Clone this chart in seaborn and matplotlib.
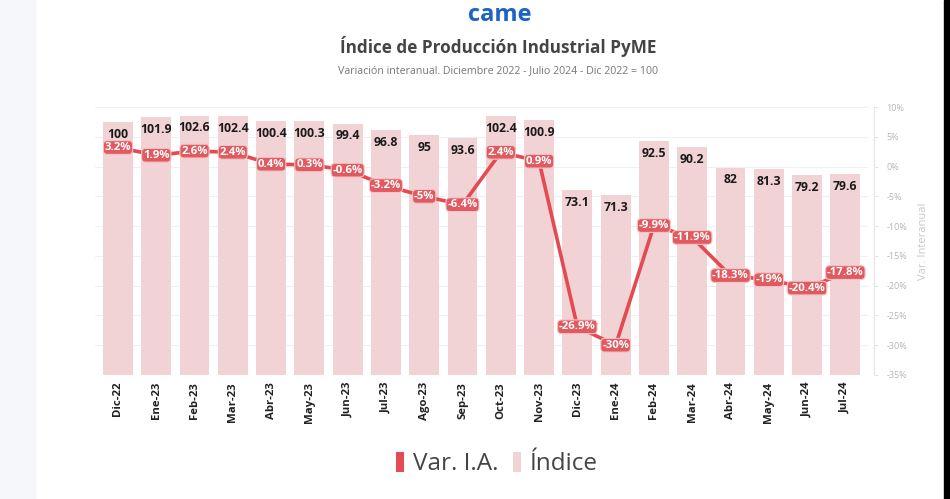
import numpy as np
import pandas as pd
import matplotlib
matplotlib.use("Agg")
import matplotlib.pyplot as plt
import seaborn as sns
from matplotlib.patches import Patch, Rectangle
from matplotlib.ticker import FuncFormatter, MultipleLocator

meses = ["Dic-22", "Ene-23", "Feb-23", "Mar-23", "Abr-23", "May-23", "Jun-23", "Jul-23",
         "Ago-23", "Sep-23", "Oct-23", "Nov-23", "Dic-23", "Ene-24", "Feb-24", "Mar-24",
         "Abr-24", "May-24", "Jun-24", "Jul-24"]
indice = [100, 101.9, 102.6, 102.4, 100.4, 100.3, 99.4, 96.8, 95, 93.6, 102.4, 100.9,
          73.1, 71.3, 92.5, 90.2, 82, 81.3, 79.2, 79.6]
var_ia = [3.2, 1.9, 2.6, 2.4, 0.4, 0.3, -0.6, -3.2, -5, -6.4, 2.4, 0.9,
          -26.9, -30, -9.9, -11.9, -18.3, -19, -20.4, -17.8]

titulo = "Índice de Producción Industrial PyME"
subtitulo = "Variación interanual. Diciembre 2022 - Julio 2024 - Dic 2022 = 100"
eje_der = "Var. Interanual"
leyenda = ["Var. I.A.", "Índice"]
logo = "came"

sns.set_theme(style="white")
plt.rcParams["font.family"] = ["Open Sans", "DejaVu Sans"]

BAR = "#f2d3d5"
RED = "#e34a51"
LAB = "#e15a60"

df = pd.DataFrame({"mes": meses, "indice": indice, "var": var_ia})

fig = plt.figure(figsize=(9.5, 4.99), dpi=100)
fig.patch.set_facecolor("white")
fig.add_artist(Rectangle((0, 0), 35 / 950, 1, transform=fig.transFigure,
                         color="#f6f7fb", zorder=-5))
fig.add_artist(Rectangle((944 / 950, 0), 6 / 950, 1, transform=fig.transFigure,
                         color="black", zorder=-5))

ax = fig.add_axes([0.1, 0.2485, 0.814, 0.537])
ax.set_facecolor("none")
sns.barplot(data=df, x="mes", y="indice", ax=ax, color=BAR, width=0.78,
            saturation=1, edgecolor="none")
ax.set_ylim(0, 106)
ax.set_ylabel("")
ax.set_xlabel("")
for s in ax.spines.values():
    s.set_visible(False)
ax.bar_label(ax.containers[0], labels=[f"{v:g}" for v in indice], padding=-13.5,
             fontsize=8.8, fontweight="bold", color="#1a1a1a")

ax2 = ax.twinx()
sns.pointplot(data=df, x="mes", y="var", ax=ax2, color=RED, markersize=0,
              linewidth=2.6)
ax2.set_ylim(-35, 10)
ax2.yaxis.set_major_locator(MultipleLocator(5))
ax2.yaxis.set_major_formatter(FuncFormatter(lambda v, p: f"{v:.0f}%"))
ax2.grid(False)
ax.set_zorder(0)
ax2.set_zorder(1)
ax2.patch.set_visible(False)
for k in ["top", "left", "bottom"]:
    ax2.spines[k].set_visible(False)
ax2.spines["right"].set_color("#e6e6e6")
ax2.spines["right"].set_linewidth(0.8)
ax2.spines["right"].set_position(("outward", 4))
ax2.tick_params(axis="y", labelsize=6.5, colors="#b5b5b5", length=3, width=0.6,
                pad=6, color="#e0e0e0")
ax2.set_ylabel(eje_der, color="#c8c8c8", fontsize=8, labelpad=8)
ax2.set_xlabel("")
ax2.tick_params(axis="x", bottom=False, top=False, labelbottom=False, labeltop=False)

# gridlines behind the bars, aligned with the right-axis ticks
ax.set_yticks(np.linspace(0, 106, 10))
ax.tick_params(axis="y", left=False, right=False, labelleft=False, labelright=False,
               length=0)
ax.grid(axis="y", color="#f0f0f0", linewidth=0.8)
ax.set_axisbelow(True)
ax.tick_params(axis="x", length=0, pad=5)
for t in ax.get_xticklabels():
    t.set_rotation(90)
    t.set_fontweight("bold")
    t.set_fontsize(8.2)
    t.set_color("#222222")
ax.set_xlim(-0.6, len(meses) - 0.4)

for i, v in enumerate(var_ia):
    ax2.annotate(f"{v:g}%", (i, v), ha="center", va="center", fontsize=8.2,
                 fontweight="bold", color="white", zorder=5,
                 bbox=dict(boxstyle="round,pad=0.12,rounding_size=0.35",
                           fc=LAB, ec="#f4c4c6", lw=0.8))

fig.text(0.526, 1 - 21 / 499, logo, ha="center", va="baseline", fontsize=17,
         fontweight="bold", color="#1b63c6")
fig.text(0.524, 0.906, titulo, ha="center", va="center", fontsize=12.3,
         fontweight="bold", color="#444444")
fig.text(0.524, 0.858, subtitulo, ha="center", va="center", fontsize=7.7,
         color="#777777")

handles = [Patch(facecolor=RED, edgecolor="none"), Patch(facecolor=BAR, edgecolor="none")]
fig.legend(handles, leyenda, loc="center", bbox_to_anchor=(0.523, 0.07), ncol=2,
           frameon=False, fontsize=17.5, handlelength=0.35, handleheight=0.9,
           handletextpad=0.35, columnspacing=0.6, labelcolor="#444444")

fig.savefig("out.png", dpi=100, facecolor="white")
